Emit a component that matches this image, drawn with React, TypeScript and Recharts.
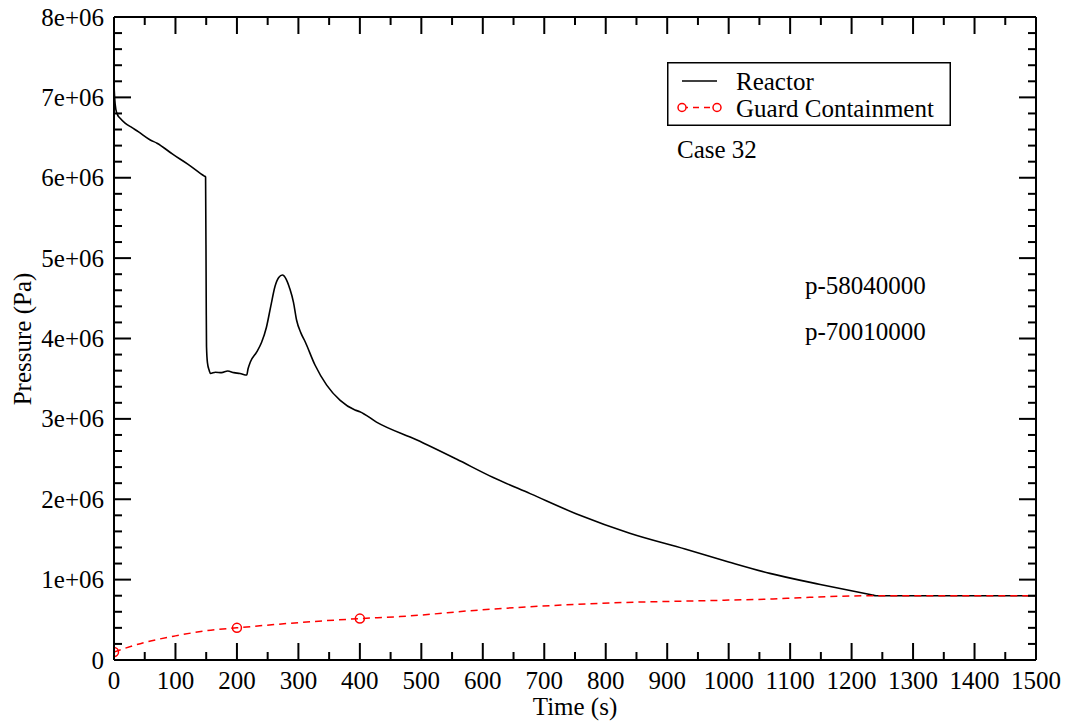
import React from "react";
import { LineChart, Line, XAxis, YAxis, Legend } from "recharts";

// Reactor pressure history (Pa)
const reactorTime = [
  0, 1, 3, 6, 10, 18, 30, 40, 59, 70, 96, 120, 147, 149, 150, 150.5, 152, 155,
  157, 165, 175, 185, 195, 205, 216, 218, 222, 232, 240, 248, 255, 262, 268,
  274, 280, 286, 292, 297, 304, 311, 327, 346, 368, 392, 400, 427, 492, 557,
  617, 677, 758, 839, 929, 1000, 1067, 1149, 1232, 1240, 1500,
];
const reactorPressure = [
  7.15e6, 7.0e6, 6.85e6, 6.78e6, 6.74e6, 6.68e6, 6.62e6, 6.57e6, 6.47e6,
  6.43e6, 6.29e6, 6.17e6, 6.02e6, 6.01e6, 4.5e6, 3.9e6, 3.7e6, 3.6e6, 3.565e6,
  3.58e6, 3.575e6, 3.595e6, 3.575e6, 3.565e6, 3.545e6, 3.62e6, 3.71e6, 3.83e6,
  3.95e6, 4.14e6, 4.4e6, 4.65e6, 4.76e6, 4.79e6, 4.74e6, 4.62e6, 4.45e6,
  4.23e6, 4.07e6, 3.96e6, 3.67e6, 3.42e6, 3.23e6, 3.11e6, 3.09e6, 2.96e6,
  2.74e6, 2.5e6, 2.27e6, 2.07e6, 1.8e6, 1.576e6, 1.38e6, 1.22e6, 1.078e6,
  0.94e6, 0.812e6, 0.8e6, 0.8e6,
];

// Guard containment pressure history (Pa)
const guardTime = [
  0, 48, 100, 151, 200, 300, 400, 465, 600, 791, 1000, 1072, 1116, 1235, 1500,
];
const guardPressure = [
  1.0e5, 2.15e5, 3.0e5, 3.65e5, 4.0e5, 4.65e5, 5.15e5, 5.4e5, 6.25e5, 7.05e5,
  7.45e5, 7.6e5, 7.75e5, 8.0e5, 8.0e5,
];
const guardMarkTimes = [0, 200, 400];

const seriesNames = ["Reactor", "Guard Containment"];
const caseLabel = "Case 32";
const probeLabels = ["p-58040000", "p-70010000"];

const xTicks: number[] = [];
for (let v = 0; v <= 1500; v += 50) xTicks.push(v);
const yTicks: number[] = [];
for (let i = 0; i <= 40; i++) yTicks.push(i * 200000);

const reactorData = reactorTime.map((t, i) => ({ t, p: reactorPressure[i] }));
const guardData = guardTime.map((t, i) => ({ t, p: guardPressure[i] }));

const FONT = '"Liberation Serif", "Times New Roman", serif';
const FS = 25;
const MAJOR = 17;
const MINOR = 8;
const RED = "#ff0000";

const isMajorX = (v: number) => v % 100 === 0;
const isMajorY = (v: number) => v % 1000000 === 0;
const fmtY = (v: number) => (v === 0 ? "0" : `${v / 1e6}e+06`);

const BottomTick = ({ x, y, payload }: any) => {
  const major = isMajorX(payload.value);
  return (
    <g>
      <line x1={x} x2={x} y1={y} y2={y - (major ? MAJOR : MINOR)} stroke="#000" strokeWidth={2} />
      {major && (
        <text x={x} y={y + 29} textAnchor="middle" fontSize={FS} fontFamily={FONT} fill="#000">
          {payload.value}
        </text>
      )}
    </g>
  );
};

const TopTick = ({ x, y, payload }: any) => {
  const major = isMajorX(payload.value);
  return <line x1={x} x2={x} y1={y} y2={y + (major ? MAJOR : MINOR)} stroke="#000" strokeWidth={2} />;
};

const LeftTick = ({ x, y, payload }: any) => {
  const major = isMajorY(payload.value);
  return (
    <g>
      <line x1={x} x2={x + (major ? MAJOR : MINOR)} y1={y} y2={y} stroke="#000" strokeWidth={2} />
      {major && (
        <text x={x - 10} y={y + 8.5} textAnchor="end" fontSize={FS} fontFamily={FONT} fill="#000">
          {fmtY(payload.value)}
        </text>
      )}
    </g>
  );
};

const RightTick = ({ x, y, payload }: any) => {
  const major = isMajorY(payload.value);
  return <line x1={x} x2={x - (major ? MAJOR : MINOR)} y1={y} y2={y} stroke="#000" strokeWidth={2} />;
};

const GuardDot = (props: any) => {
  const { cx, cy, payload, index } = props;
  if (!guardMarkTimes.includes(payload.t)) return <g key={`d-${index}`} />;
  return <circle key={`d-${index}`} cx={cx} cy={cy} r={4.5} fill="none" stroke={RED} strokeWidth={1.5} />;
};

const LegendBox = () => (
  <svg width={284} height={64} style={{ display: "block" }}>
    <rect x={0.75} y={0.75} width={282.5} height={62.5} fill="#fff" stroke="#000" strokeWidth={1.5} />
    <line x1={15} x2={50} y1={19} y2={19} stroke="#000" strokeWidth={1.6} />
    <text x={69} y={27.5} fontSize={FS} fontFamily={FONT} fill="#000">
      {seriesNames[0]}
    </text>
    <line x1={15} x2={50} y1={45.5} y2={45.5} stroke={RED} strokeWidth={1.5} strokeDasharray="6 5" />
    <circle cx={15} cy={45.5} r={4} fill="#fff" stroke={RED} strokeWidth={1.5} />
    <circle cx={50} cy={45.5} r={4} fill="#fff" stroke={RED} strokeWidth={1.5} />
    <text x={69} y={54.5} fontSize={FS} fontFamily={FONT} fill="#000">
      {seriesNames[1]}
    </text>
  </svg>
);

const textStyle: React.CSSProperties = {
  position: "absolute",
  fontFamily: FONT,
  fontSize: FS,
  lineHeight: `${FS}px`,
  whiteSpace: "nowrap",
  color: "#000",
};

export default function App() {
  const axisLine = { stroke: "#000", strokeWidth: 2 };
  return (
    <div style={{ position: "absolute", left: 0, top: 0, width: 1070, height: 723, background: "#fff" }}>
      <LineChart width={1070} height={723} margin={{ top: 16, right: 33, bottom: 0, left: 0 }}>
        <XAxis
          dataKey="t"
          type="number"
          domain={[0, 1500]}
          ticks={xTicks}
          interval={0}
          height={63}
          tickSize={0}
          tickMargin={0}
          tickLine={false}
          axisLine={axisLine}
          tick={<BottomTick />}
          allowDataOverflow
        />
        {/* mirrored frame axes (1px thick so they still render), same domains */}
        <XAxis
          xAxisId="top"
          orientation="top"
          dataKey="t"
          type="number"
          domain={[0, 1500]}
          ticks={xTicks}
          interval={0}
          height={1}
          tickSize={0}
          tickMargin={0}
          tickLine={false}
          axisLine={axisLine}
          tick={<TopTick />}
          allowDataOverflow
        />
        <YAxis
          type="number"
          domain={[0, 8000000]}
          ticks={yTicks}
          interval={0}
          width={114}
          tickSize={0}
          tickMargin={0}
          tickLine={false}
          axisLine={axisLine}
          tick={<LeftTick />}
          allowDataOverflow
        />
        <YAxis
          yAxisId="right"
          orientation="right"
          type="number"
          domain={[0, 8000000]}
          ticks={yTicks}
          interval={0}
          width={1}
          tickSize={0}
          tickMargin={0}
          tickLine={false}
          axisLine={axisLine}
          tick={<RightTick />}
          allowDataOverflow
        />
        <Line
          xAxisId="top"
          yAxisId="right"
          data={reactorData}
          dataKey="p"
          name={seriesNames[0]}
          type="monotone"
          stroke="#000"
          strokeWidth={1.6}
          dot={false}
          activeDot={false}
          isAnimationActive={false}
        />
        <Line
          data={guardData}
          dataKey="p"
          name={seriesNames[1]}
          type="monotone"
          stroke={RED}
          strokeWidth={1.5}
          strokeDasharray="7 5"
          dot={GuardDot}
          activeDot={false}
          isAnimationActive={false}
        />
        <Legend
          layout="horizontal"
          verticalAlign="middle"
          content={() => <LegendBox />}
          wrapperStyle={{ left: 667, top: 62, width: 284, height: 64 }}
        />
      </LineChart>

      <div style={{ ...textStyle, left: 677, top: 137 }}>{caseLabel}</div>
      <div style={{ ...textStyle, left: 805, top: 273 }}>{probeLabels[0]}</div>
      <div style={{ ...textStyle, left: 805, top: 319 }}>{probeLabels[1]}</div>
      <div style={{ ...textStyle, left: 575, top: 694, transform: "translateX(-50%)" }}>Time (s)</div>
      <div
        style={{
          ...textStyle,
          left: 22,
          top: 338.5,
          transform: "translate(-50%, -50%) rotate(-90deg)",
        }}
      >
        Pressure (Pa)
      </div>
    </div>
  );
}
